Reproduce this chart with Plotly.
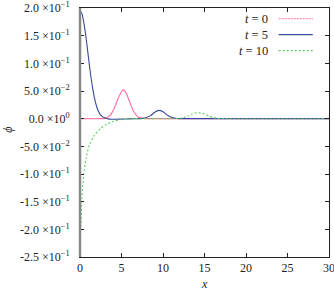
import plotly.graph_objects as go

# t = 0
x_t0 = [0, 2.5, 3.0, 3.5, 4.0, 4.5, 5.0, 5.2, 5.5, 6.0, 6.5, 7.0, 7.5, 8.0, 30]
y_t0 = [0, 0, 0.0005, 0.004, 0.0145, 0.033, 0.049, 0.052, 0.048, 0.030, 0.012, 0.003, 0.0006, 0, 0]

# t = 5
x_t5 = [0, 0.25, 0.5, 0.75, 1.0, 1.25, 1.5, 1.75, 2.0, 2.25, 2.5, 3.0, 3.5, 4.0, 5.0, 6.0, 7.0,
        7.5, 8.0, 8.5, 9.0, 9.5, 10.0, 10.5, 11.0, 11.5, 12.0, 13.0, 30]
y_t5 = [0.195, 0.189, 0.170, 0.144, 0.113, 0.083, 0.0575, 0.037, 0.022, 0.0125, 0.0066, 0.001, -0.0008,
        -0.001, -0.0008, -0.0004, 0.0, 0.0005, 0.002, 0.0055, 0.0115, 0.015, 0.0125, 0.0065, 0.0025,
        0.0007, 0.0001, 0, 0]

# t = 10
x_t10 = [0.0, 0.08, 0.24, 0.44, 0.72, 1.12, 1.73, 2.5, 3.2, 3.9, 4.6, 5.5, 7.0, 9.0, 11.0, 12.0,
         12.5, 13.0, 13.5, 14.0, 14.5, 15.0, 15.5, 16.0, 16.5, 17.0, 18.0, 30]
y_t10 = [-0.21, -0.198, -0.144, -0.102, -0.072, -0.048, -0.030, -0.0175, -0.010, -0.0055, -0.0025,
         -0.0008, -0.0002, 0.0, 0.0, 0.0005, 0.002, 0.005, 0.0085, 0.0105, 0.0105, 0.0085, 0.005,
         0.0022, 0.0007, 0.0002, 0, 0]

labels = ["t = 0", "t = 5", "t = 10"]
colors = ["#ff6f9c", "#3a4a9c", "#5ccf5c"]
dashes = ["solid", "solid", "2px,2px"]

y_tickvals = [0.2, 0.15, 0.1, 0.05, 0.0, -0.05, -0.1, -0.15, -0.2, -0.25]
y_ticktext = ["2.0 ×10<sup>−1</sup>", "1.5 ×10<sup>−1</sup>", "1.0 ×10<sup>−1</sup>",
              "5.0 ×10<sup>−2</sup>", "0.0 ×10<sup>0</sup>", "-5.0 ×10<sup>−2</sup>",
              "-1.0 ×10<sup>−1</sup>", "-1.5 ×10<sup>−1</sup>", "-2.0 ×10<sup>−1</sup>",
              "-2.5 ×10<sup>−1</sup>"]
x_tickvals = [0, 5, 10, 15, 20, 25, 30]

FONT = "Liberation Serif"

fig = go.Figure()
for xs, ys, c, d in zip([x_t0, x_t5, x_t10], [y_t0, y_t5, y_t10], colors, dashes):
    fig.add_trace(go.Scatter(x=xs, y=ys, mode="lines",
                             line=dict(color=c, width=1.1, dash=d, shape="spline", smoothing=0.6),
                             showlegend=False, hoverinfo="skip"))

# legend (text left of sample line, as in reference)
leg_y = [0.957, 0.893, 0.829]
for lab, c, d, ly in zip(labels, colors, ["2px,1px", "solid", "2px,2px"], leg_y):
    t, rest = lab.split(" ", 1)
    fig.add_annotation(xref="paper", yref="paper", x=0.765, y=ly, xanchor="right", yanchor="middle",
                       text=f"<i>{t}</i> {rest}", showarrow=False,
                       font=dict(family=FONT, size=12.5, color="#222"))
    fig.add_shape(type="line", xref="paper", yref="paper", x0=0.798, x1=0.935, y0=ly, y1=ly,
                  line=dict(color=c, width=1.1, dash=d))

# thick grey left edge
fig.add_shape(type="line", xref="paper", yref="paper", x0=0, x1=0, y0=0, y1=1,
              line=dict(color="#888888", width=2.5))

fig.add_annotation(xref="paper", yref="paper", x=-0.29, y=0.51, xanchor="center", yanchor="middle",
                   text="<i>ϕ</i>", showarrow=False,
                   textangle=-90, font=dict(family=FONT, size=12, color="#222"))
fig.add_annotation(xref="paper", yref="paper", x=0.5, y=-0.11, yanchor="middle", text="<i>x</i>",
                   showarrow=False, font=dict(family=FONT, size=12, color="#222"))

fig.update_layout(
    width=334, height=291,
    margin=dict(l=80, r=5, t=8, b=34),
    plot_bgcolor="white", paper_bgcolor="white",
    font=dict(family=FONT, size=12, color="#222"),
    xaxis=dict(range=[0, 30], tickvals=x_tickvals, ticks="inside", ticklen=4, tickcolor="#222",
               showline=True, linecolor="#222", linewidth=1, mirror="ticks", showgrid=False,
               zeroline=False, automargin=False, ticklabeloverflow="allow"),
    yaxis=dict(range=[-0.25, 0.2], tickvals=y_tickvals, ticktext=y_ticktext, ticks="inside",
               ticklen=4, tickcolor="#222", showline=True, linecolor="#222", linewidth=1,
               mirror="ticks", showgrid=False, zeroline=False, automargin=False,
               ticklabelstandoff=7, ticklabeloverflow="allow"),
)

fig.write_html("out.html", config={"displayModeBar": False},
               post_script="document.body.style.margin='0';document.body.style.overflow='hidden';")
